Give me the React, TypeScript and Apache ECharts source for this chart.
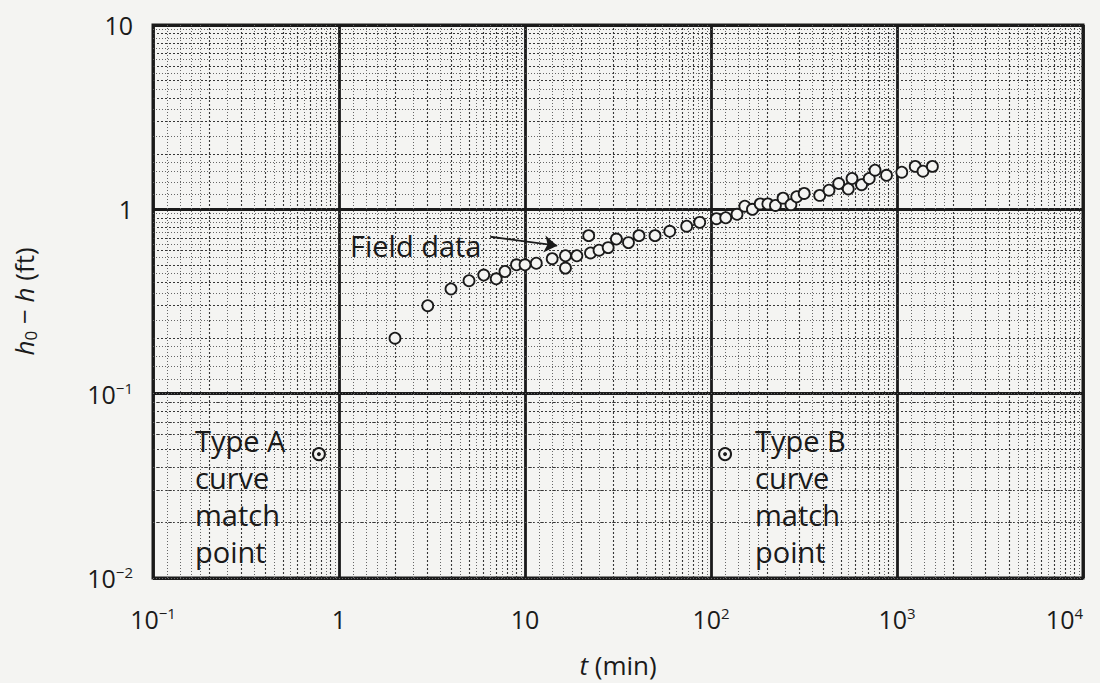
import React, { useEffect, useRef } from "react";
import * as echarts from "echarts";

// Field data (t in min, h0 - h in ft)
const fieldT = [2, 3, 4, 5, 6, 7, 7.8, 9, 10, 11.5, 14, 16.5, 16.5, 19, 22, 22.5, 25, 28, 31, 36, 41, 50, 60, 74, 87, 107, 120, 138, 152, 167, 184, 202, 222, 244, 269, 289, 317, 384, 431, 486, 547, 573, 645, 709, 762, 878, 1061, 1253, 1380, 1550];
const fieldH = [0.2, 0.3, 0.37, 0.41, 0.44, 0.42, 0.46, 0.5, 0.5, 0.51, 0.54, 0.56, 0.48, 0.56, 0.72, 0.58, 0.6, 0.62, 0.69, 0.66, 0.72, 0.72, 0.76, 0.81, 0.85, 0.89, 0.9, 0.94, 1.04, 1.0, 1.07, 1.07, 1.05, 1.15, 1.06, 1.17, 1.22, 1.19, 1.27, 1.38, 1.29, 1.47, 1.36, 1.47, 1.63, 1.53, 1.59, 1.71, 1.61, 1.71];

// Type A / Type B match points
const matchT = [0.78, 119];
const matchH = [0.047, 0.047];

// Arrow for "Field data" annotation (data coordinates)
const arrowFrom = [6.5, 0.71];
const arrowTo = [14.9, 0.635];

// Axis ranges and tick labels
const xMin = 0.1, xMax = 10000;
const yMin = 0.01, yMax = 10;
const xTickLabels = ["{n|10}{s|−1}", "{n|1}", "{n|10}", "{n|10}{s|2}", "{n|10}{s|3}", "{n|10}{s|4}"];
const yTickLabels = ["{n|10}{s|−2}", "{n|10}{s|−1}", "{n|1}", "{n|10}"];

// Log graph-paper rulings inside each decade
const paperMedium = [2, 3, 4, 5, 6, 7, 8, 9];
const paperFine = [1.2, 1.4, 1.6, 1.8, 2.5, 3.5, 4.5, 5.5, 6.5, 7.5, 8.5, 9.5];
const xDecades = [0.1, 1, 10, 100, 1000];
const yDecades = [0.01, 0.1, 1];

const FONT = "'Open Sans', 'DejaVu Sans', sans-serif";
const INK = "#1a1a1a";
const PAPER = "#f4f4f2";

const richLabel = {
  n: { fontSize: 25, fontFamily: FONT, color: INK, lineHeight: 27 },
  s: { fontSize: 15, fontFamily: FONT, color: INK, verticalAlign: "top" as const, lineHeight: 15 },
};

export default function App() {
  const ref = useRef<HTMLDivElement>(null);

  useEffect(() => {
    if (!ref.current) return;
    const chart = echarts.init(ref.current, undefined, { renderer: "svg" });

    const medium = { color: "#363636", width: 1.1, type: [2, 2] };
    const fine = { color: "#666", width: 1, type: [1, 2] };
    const paperLines: any[] = [];
    xDecades.forEach((d) => {
      paperMedium.forEach((m) => paperLines.push({ xAxis: d * m, lineStyle: medium }));
      paperFine.forEach((m) => paperLines.push({ xAxis: d * m, lineStyle: fine }));
    });
    yDecades.forEach((d) => {
      paperMedium.forEach((m) => paperLines.push({ yAxis: d * m, lineStyle: medium }));
      paperFine.forEach((m) => paperLines.push({ yAxis: d * m, lineStyle: fine }));
    });

    const idx = (v: number, min: number) => Math.round(Math.log10(v) - Math.log10(min));

    chart.setOption({
      animation: false,
      backgroundColor: PAPER,
      grid: {
        left: 153,
        right: 17,
        top: 25,
        bottom: 94,
        show: true,
        borderColor: INK,
        borderWidth: 3,
        backgroundColor: PAPER,
      },
      xAxis: {
        type: "log",
        logBase: 10,
        min: xMin,
        max: xMax,
        axisLine: { show: false },
        axisTick: { show: false },
        splitLine: { show: true, lineStyle: { color: INK, width: 2.8 } },
        axisLabel: {
          margin: 27,
          alignMaxLabel: "right",
          formatter: (v: number) => xTickLabels[idx(v, xMin)] ?? "",
          rich: richLabel,
        },
        name: "{i|t}{r| (min)}",
        nameLocation: "middle",
        nameGap: 74,
        nameTextStyle: {
          rich: {
            i: { fontSize: 26, fontFamily: FONT, fontStyle: "italic", color: INK },
            r: { fontSize: 26, fontFamily: FONT, color: INK },
          },
        },
      },
      yAxis: {
        type: "log",
        logBase: 10,
        min: yMin,
        max: yMax,
        axisLine: { show: false },
        axisTick: { show: false },
        splitLine: { show: true, lineStyle: { color: INK, width: 2.8 } },
        axisLabel: {
          margin: 20,
          formatter: (v: number) => yTickLabels[idx(v, yMin)] ?? "",
          rich: richLabel,
        },
        name: "{i|h}{sub|0}{r| − }{i|h}{r| (ft)}",
        nameLocation: "middle",
        nameRotate: 90,
        nameGap: 114,
        nameTextStyle: {
          rich: {
            i: { fontSize: 26, fontFamily: FONT, fontStyle: "italic", color: INK, lineHeight: 30 },
            r: { fontSize: 26, fontFamily: FONT, color: INK, lineHeight: 30 },
            sub: { fontSize: 17, fontFamily: FONT, color: INK, verticalAlign: "bottom", lineHeight: 17 },
          },
        },
      },
      series: [
        {
          name: "paper",
          type: "line",
          data: [],
          silent: true,
          z: 1,
          markLine: {
            silent: true,
            symbol: ["none", "none"],
            label: { show: false },
            animation: false,
            data: paperLines,
          },
        },
        {
          name: "arrow",
          type: "line",
          data: [],
          silent: true,
          z: 3,
          markLine: {
            silent: true,
            symbol: ["none", "arrow"],
            symbolSize: 13,
            label: { show: false },
            lineStyle: { color: INK, width: 1.8, type: "solid", curveness: 0.2 },
            data: [[{ coord: arrowFrom }, { coord: arrowTo }]],
          },
        },
        {
          name: "Field data",
          type: "scatter",
          z: 5,
          symbol: "circle",
          symbolSize: 11,
          itemStyle: { color: PAPER, borderColor: INK, borderWidth: 1.8, opacity: 1 },
          data: fieldT.map((t, i) => [t, fieldH[i]]),
        },
        {
          name: "Match point ring",
          type: "scatter",
          z: 5,
          symbol: "circle",
          symbolSize: 12,
          itemStyle: { color: PAPER, borderColor: INK, borderWidth: 2, opacity: 1 },
          data: matchT.map((t, i) => [t, matchH[i]]),
        },
        {
          name: "Match point dot",
          type: "scatter",
          z: 6,
          symbol: "circle",
          symbolSize: 4,
          itemStyle: { color: INK, opacity: 1 },
          data: matchT.map((t, i) => [t, matchH[i]]),
        },
      ],
      graphic: [
        {
          type: "text",
          x: 350,
          y: 245,
          z: 10,
          style: { text: "Field data", fontSize: 29, fontWeight: 500, fontFamily: FONT, fill: INK, verticalAlign: "middle" },
        },
        {
          type: "text",
          x: 195,
          y: 422,
          z: 10,
          style: { text: "Type A\ncurve\nmatch\npoint", fontSize: 29, fontWeight: 500, lineHeight: 37, fontFamily: FONT, fill: INK, verticalAlign: "top" },
        },
        {
          type: "text",
          x: 755,
          y: 422,
          z: 10,
          style: { text: "Type B\ncurve\nmatch\npoint", fontSize: 29, fontWeight: 500, lineHeight: 37, fontFamily: FONT, fill: INK, verticalAlign: "top" },
        },
      ],
    });

    return () => chart.dispose();
  }, []);

  return (
    <div
      ref={ref}
      style={{ position: "fixed", left: 0, top: 0, width: 1100, height: 683 }}
    />
  );
}
